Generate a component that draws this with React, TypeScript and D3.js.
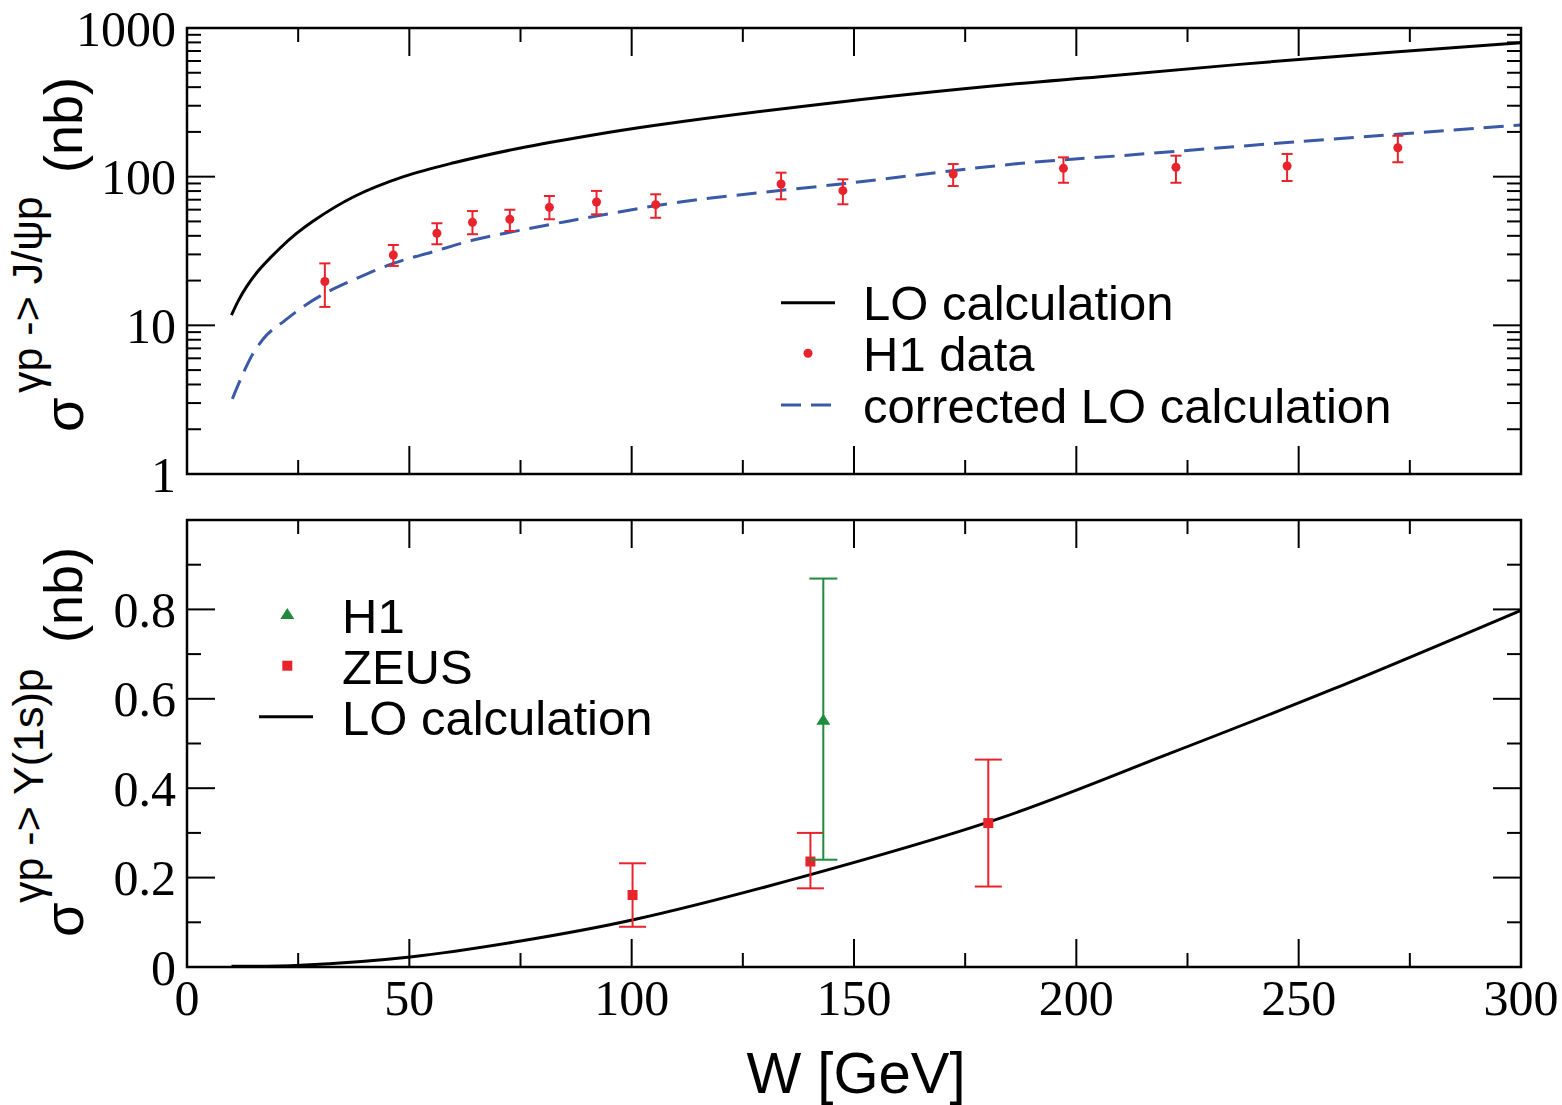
import React from "react";
import * as d3 from "d3";

// ---------- data ----------
const xTicksMajor = [0, 50, 100, 150, 200, 250, 300];
const xTicksMinor = [25, 75, 125, 175, 225, 275];
const xTickLabels = ["0", "50", "100", "150", "200", "250", "300"];

const topYTicks = [1, 10, 100, 1000];
const topYTickLabels = ["1", "10", "100", "1000"];
const botYTicksMajor = [0, 0.2, 0.4, 0.6, 0.8];
const botYTicksMinor = [0.1, 0.3, 0.5, 0.7, 0.9];
const botYTickLabels = ["0", "0.2", "0.4", "0.6", "0.8"];

// J/psi: H1 data
const h1JpsiW = [31.0, 46.4, 56.2, 64.2, 72.6, 81.5, 92.1, 105.4, 133.6, 147.5, 172.3, 197.1, 222.4, 247.4, 272.3];
const h1JpsiSigma = [19.7, 29.7, 41.6, 49.3, 51.7, 62.2, 67.6, 64.8, 89.3, 80.5, 104.2, 113.8, 115.6, 118.0, 156.6];
const h1JpsiHi = [26.1, 34.7, 48.6, 58.7, 59.9, 74.1, 80.2, 76.1, 106.4, 96.0, 121.6, 134.9, 138.4, 142.2, 188.4];
const h1JpsiLo = [13.3, 25.1, 35.1, 41.0, 43.1, 51.7, 55.8, 52.9, 70.4, 65.2, 86.5, 91.0, 91.0, 93.5, 125.0];

// J/psi: LO calculation
const loJpsiW = [10, 11.5, 13.4, 16, 20.9, 24.5, 28.4, 37.5, 48.7, 60, 75, 90, 105, 148.4, 185.9, 205.3, 250, 300];
const loJpsiSigma = [11.7, 14.55, 18.2, 23.2, 33.0, 41.2, 50.4, 73.3, 100, 124, 156, 188, 221, 322, 420, 470, 615, 796];

// J/psi: corrected LO calculation
const corrW = [10.2, 12.7, 14.9, 18.0, 21.7, 26.2, 31.0, 37.4, 46.4, 55.4, 64.4, 73.4, 82.4, 92.1, 110.9, 148.4, 185.9, 212.1, 250, 300];
const corrSigma = [3.2, 4.8, 6.5, 8.66, 10.6, 13.4, 16.4, 20.2, 26.1, 31.3, 37.5, 42.7, 48.1, 54.4, 67.5, 90.2, 121.6, 140, 172, 223];

// Upsilon: LO calculation
const loUpsW = [10, 25.5, 50.2, 75, 100.1, 140, 182.9, 220.3, 257.8, 300];
const loUpsSigma = [0.0016, 0.004, 0.0225, 0.058, 0.105, 0.206, 0.333, 0.475, 0.622, 0.798];

// Upsilon: ZEUS
const zeusW = [100.2, 140.2, 180.2];
const zeusSigma = [0.161, 0.236, 0.322];
const zeusHi = [0.232, 0.300, 0.464];
const zeusLo = [0.090, 0.176, 0.180];

// Upsilon: H1
const h1UpsW = [143.1];
const h1UpsSigma = [0.553];
const h1UpsHi = [0.869];
const h1UpsLo = [0.240];

// ---------- styles ----------
const RED = "#e8232c";
const GREEN = "#1e8b3d";
const BLUE = "#3a5aa8";
const SERIF = "'Liberation Serif', 'Times New Roman', serif";
const SANS = "'Liberation Sans', Arial, sans-serif";

const L = 187, R = 1521;
const TOP1 = 28, BOT1 = 474;
const TOP2 = 520, BOT2 = 967;

export default function App() {
  const x = d3.scaleLinear().domain([0, 300]).range([L, R]);
  const yTop = d3.scaleLog().domain([1, 1000]).range([BOT1, TOP1]);
  const yBot = d3.scaleLinear().domain([0, 1]).range([BOT2, TOP2]);

  const topMinor: number[] = [];
  [1, 10, 100].forEach((d) => {
    for (let k = 2; k <= 9; k++) topMinor.push(d * k);
  });

  const lineTop = d3
    .line<[number, number]>()
    .x((d) => x(d[0]))
    .y((d) => yTop(d[1]))
    .curve(d3.curveCatmullRom.alpha(0.5));
  const lineBot = d3
    .line<[number, number]>()
    .x((d) => x(d[0]))
    .y((d) => yBot(d[1]))
    .curve(d3.curveCatmullRom.alpha(0.5));

  const loJpsi = loJpsiW.map((w, i) => [w, loJpsiSigma[i]] as [number, number]);
  const corr = corrW.map((w, i) => [w, corrSigma[i]] as [number, number]);
  const loUps = loUpsW.map((w, i) => [w, loUpsSigma[i]] as [number, number]);

  const MAJ = 28, MIN = 14;
  const tickStroke = { stroke: "#000", strokeWidth: 2 };

  const xTicksFor = (top: number, bot: number) => (
    <g>
      {xTicksMajor.map((t) => (
        <g key={"M" + t}>
          <line x1={x(t)} x2={x(t)} y1={bot} y2={bot - MAJ} {...tickStroke} />
          <line x1={x(t)} x2={x(t)} y1={top} y2={top + MAJ} {...tickStroke} />
        </g>
      ))}
      {xTicksMinor.map((t) => (
        <g key={"m" + t}>
          <line x1={x(t)} x2={x(t)} y1={bot} y2={bot - MIN} {...tickStroke} />
          <line x1={x(t)} x2={x(t)} y1={top} y2={top + MIN} {...tickStroke} />
        </g>
      ))}
    </g>
  );

  const yTicksFor = (scale: (v: number) => number, major: number[], minor: number[]) => (
    <g>
      {major.map((t) => (
        <g key={"M" + t}>
          <line x1={L} x2={L + MAJ} y1={scale(t)} y2={scale(t)} {...tickStroke} />
          <line x1={R} x2={R - MAJ} y1={scale(t)} y2={scale(t)} {...tickStroke} />
        </g>
      ))}
      {minor.map((t) => (
        <g key={"m" + t}>
          <line x1={L} x2={L + MIN} y1={scale(t)} y2={scale(t)} {...tickStroke} />
          <line x1={R} x2={R - MIN} y1={scale(t)} y2={scale(t)} {...tickStroke} />
        </g>
      ))}
    </g>
  );

  return (
    <svg
      width={1562}
      height={1105}
      style={{ position: "absolute", left: 0, top: 0, display: "block", background: "#fff" }}
    >
      <rect x={0} y={0} width={1562} height={1105} fill="#fff" />

      <defs>
        <clipPath id="clipTop">
          <rect x={L} y={TOP1} width={R - L} height={BOT1 - TOP1} />
        </clipPath>
        <clipPath id="clipBot">
          <rect x={L} y={TOP2} width={R - L} height={BOT2 - TOP2} />
        </clipPath>
      </defs>

      {/* ================= TOP PANEL ================= */}
      {xTicksFor(TOP1, BOT1)}
      {yTicksFor(yTop, topYTicks, topMinor)}
      {topYTicks.map((t, i) => (
        <text
          key={t}
          x={176}
          y={yTop(t)}
          dy="0.35em"
          textAnchor="end"
          fontFamily={SERIF}
          fontSize={50}
          fill="#000"
        >
          {topYTickLabels[i]}
        </text>
      ))}

      <g clipPath="url(#clipTop)">
        <path d={lineTop(loJpsi) || ""} fill="none" stroke="#000" strokeWidth={3} />
        <path
          d={lineTop(corr) || ""}
          fill="none"
          stroke={BLUE}
          strokeWidth={3}
          strokeDasharray="20,10"
        />
        {h1JpsiW.map((w, i) => (
          <g key={"h1j" + i} stroke={RED} strokeWidth={2}>
            <line x1={x(w)} x2={x(w)} y1={yTop(h1JpsiHi[i])} y2={yTop(h1JpsiLo[i])} />
            <line x1={x(w) - 5.5} x2={x(w) + 5.5} y1={yTop(h1JpsiHi[i])} y2={yTop(h1JpsiHi[i])} />
            <line x1={x(w) - 5.5} x2={x(w) + 5.5} y1={yTop(h1JpsiLo[i])} y2={yTop(h1JpsiLo[i])} />
            <circle cx={x(w)} cy={yTop(h1JpsiSigma[i])} r={4.5} fill={RED} stroke="none" />
          </g>
        ))}
      </g>

      <rect x={L} y={TOP1} width={R - L} height={BOT1 - TOP1} fill="none" stroke="#000" strokeWidth={2.5} />

      {/* top legend */}
      <line x1={781} x2={835} y1={302.7} y2={302.7} stroke="#000" strokeWidth={3} />
      <text x={863} y={320} fontFamily={SANS} fontSize={49} fill="#000">LO calculation</text>
      <circle cx={808} cy={353.3} r={4.5} fill={RED} />
      <text x={863} y={371} fontFamily={SANS} fontSize={49} fill="#000">H1 data</text>
      <line x1={781} x2={835} y1={405} y2={405} stroke={BLUE} strokeWidth={3} strokeDasharray="20,10" />
      <text x={863} y={422.5} fontFamily={SANS} fontSize={49} fill="#000">corrected LO calculation</text>

      {/* top y-axis label */}
      <text transform="translate(83,432) rotate(-90)" fontFamily={SANS} fontSize={56} fill="#000">σ</text>
      <text transform="translate(42,393) rotate(-90)" fontFamily={SANS} fontSize={43} fill="#000">γp -&gt; J/ψp</text>
      <text transform="translate(82,173) rotate(-90)" fontFamily={SANS} fontSize={54} fill="#000">(nb)</text>

      {/* ================= BOTTOM PANEL ================= */}
      {xTicksFor(TOP2, BOT2)}
      {yTicksFor(yBot, botYTicksMajor, botYTicksMinor)}
      {botYTicksMajor.map((t, i) => (
        <text
          key={t}
          x={176}
          y={yBot(t)}
          dy="0.35em"
          textAnchor="end"
          fontFamily={SERIF}
          fontSize={50}
          fill="#000"
        >
          {botYTickLabels[i]}
        </text>
      ))}
      {xTicksMajor.map((t, i) => (
        <text
          key={"xl" + t}
          x={x(t)}
          y={1015}
          textAnchor="middle"
          fontFamily={SERIF}
          fontSize={50}
          fill="#000"
        >
          {xTickLabels[i]}
        </text>
      ))}

      <g clipPath="url(#clipBot)">
        <path d={lineBot(loUps) || ""} fill="none" stroke="#000" strokeWidth={3} />
        {zeusW.map((w, i) => (
          <g key={"z" + i} stroke={RED} strokeWidth={2}>
            <line x1={x(w)} x2={x(w)} y1={yBot(zeusHi[i])} y2={yBot(zeusLo[i])} />
            <line x1={x(w) - 13.5} x2={x(w) + 13.5} y1={yBot(zeusHi[i])} y2={yBot(zeusHi[i])} />
            <line x1={x(w) - 13.5} x2={x(w) + 13.5} y1={yBot(zeusLo[i])} y2={yBot(zeusLo[i])} />
            <rect x={x(w) - 5} y={yBot(zeusSigma[i]) - 5} width={10} height={10} fill={RED} stroke="none" />
          </g>
        ))}
        {h1UpsW.map((w, i) => (
          <g key={"hu" + i} stroke={GREEN} strokeWidth={2}>
            <line x1={x(w)} x2={x(w)} y1={yBot(h1UpsHi[i])} y2={yBot(h1UpsLo[i])} />
            <line x1={x(w) - 14} x2={x(w) + 14} y1={yBot(h1UpsHi[i])} y2={yBot(h1UpsHi[i])} />
            <line x1={x(w) - 14} x2={x(w) + 14} y1={yBot(h1UpsLo[i])} y2={yBot(h1UpsLo[i])} />
            <path
              d={`M${x(w)},${yBot(h1UpsSigma[i]) - 6} L${x(w) + 7},${yBot(h1UpsSigma[i]) + 5} L${x(w) - 7},${yBot(h1UpsSigma[i]) + 5} Z`}
              fill={GREEN}
              stroke="none"
            />
          </g>
        ))}
      </g>

      <rect x={L} y={TOP2} width={R - L} height={BOT2 - TOP2} fill="none" stroke="#000" strokeWidth={2.5} />

      {/* bottom legend */}
      <path d="M287.3,608 L294.3,619 L280.3,619 Z" fill={GREEN} />
      <text x={342} y={632.7} fontFamily={SANS} fontSize={49} fill="#000">H1</text>
      <rect x={282.3} y={660.7} width={10} height={10} fill={RED} />
      <text x={342} y={683.7} fontFamily={SANS} fontSize={49} fill="#000">ZEUS</text>
      <line x1={259} x2={313} y1={716.7} y2={716.7} stroke="#000" strokeWidth={3} />
      <text x={342} y={734.5} fontFamily={SANS} fontSize={49} fill="#000">LO calculation</text>

      {/* bottom y-axis label */}
      <text transform="translate(83,937) rotate(-90)" fontFamily={SANS} fontSize={56} fill="#000">σ</text>
      <text transform="translate(43,903) rotate(-90)" fontFamily={SANS} fontSize={43} fill="#000">γp -&gt; Y(1s)p</text>
      <text transform="translate(82,643) rotate(-90)" fontFamily={SANS} fontSize={54} fill="#000">(nb)</text>

      {/* x-axis title */}
      <text x={856} y={1093} textAnchor="middle" fontFamily={SANS} fontSize={58} fill="#000">W [GeV]</text>
    </svg>
  );
}
